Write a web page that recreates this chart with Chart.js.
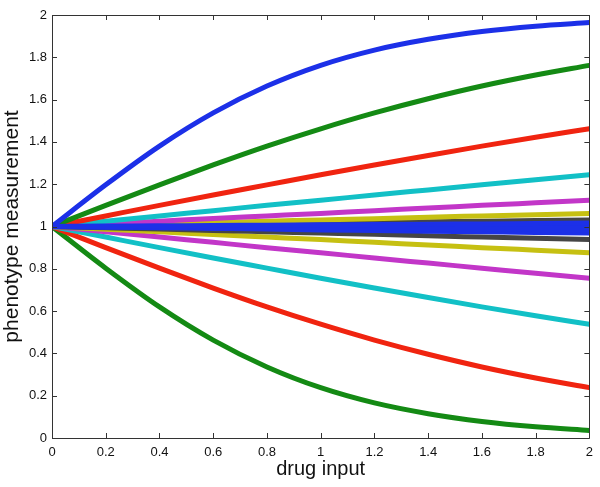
<!DOCTYPE html>
<html>
<head>
<meta charset="utf-8">
<script src="https://cdn.jsdelivr.net/npm/chart.js@4.4.1/dist/chart.umd.min.js"></script>
<style>
  html, body { margin: 0; padding: 0; background: #fff; }
  #wrap { width: 600px; height: 487px; }
</style>
</head>
<body>
<div id="wrap"><canvas id="phenotypeChart" width="600" height="487"></canvas></div>
<script>
// drug input sample points
const drugInput = [0, 0.2, 0.4, 0.6, 0.8, 1, 1.2, 1.4, 1.6, 1.8, 2];

// curves above 1 (top to bottom)
const up1 = [1.000, 1.197, 1.380, 1.537, 1.664, 1.762, 1.834, 1.885, 1.922, 1.947, 1.964];
const up2 = [1.000, 1.100, 1.197, 1.291, 1.380, 1.462, 1.537, 1.604, 1.664, 1.716, 1.762];
const up3 = [1.000, 1.050, 1.100, 1.149, 1.197, 1.245, 1.291, 1.336, 1.380, 1.422, 1.462];
const up4 = [1.000, 1.025, 1.050, 1.075, 1.100, 1.124, 1.149, 1.173, 1.197, 1.221, 1.245];
const up5 = [1.000, 1.013, 1.025, 1.038, 1.050, 1.062, 1.075, 1.087, 1.100, 1.112, 1.124];
const up6 = [1.000, 1.006, 1.012, 1.019, 1.025, 1.031, 1.037, 1.044, 1.050, 1.056, 1.062];
const up7 = [1.000, 1.003, 1.006, 1.009, 1.012, 1.016, 1.019, 1.022, 1.025, 1.028, 1.031];

// the blue bundle around 1
const band1 = [1.000, 1.002, 1.003, 1.005, 1.006, 1.008, 1.009, 1.011, 1.012, 1.014, 1.016];
const band2 = [1.000, 1.000, 1.000, 1.000, 1.000, 1.000, 1.000, 1.000, 1.000, 1.000, 1.000];
const band3 = [1.000, 0.998, 0.997, 0.995, 0.994, 0.992, 0.991, 0.989, 0.988, 0.986, 0.984];
const band4 = [1.000, 0.997, 0.994, 0.991, 0.988, 0.984, 0.981, 0.978, 0.975, 0.972, 0.969];

// curves below 1 (top to bottom)
const down1 = [1.000, 0.994, 0.988, 0.981, 0.975, 0.969, 0.963, 0.956, 0.950, 0.944, 0.938];
const down2 = [1.000, 0.987, 0.975, 0.962, 0.950, 0.938, 0.925, 0.913, 0.900, 0.888, 0.876];
const down3 = [1.000, 0.975, 0.950, 0.925, 0.900, 0.876, 0.851, 0.827, 0.803, 0.779, 0.755];
const down4 = [1.000, 0.950, 0.900, 0.851, 0.803, 0.755, 0.709, 0.664, 0.620, 0.578, 0.538];
const down5 = [1.000, 0.900, 0.803, 0.709, 0.620, 0.538, 0.463, 0.396, 0.336, 0.284, 0.238];
const down6 = [1.000, 0.803, 0.620, 0.463, 0.336, 0.238, 0.166, 0.115, 0.078, 0.053, 0.036];

const axisTicks = [0, 0.2, 0.4, 0.6, 0.8, 1, 1.2, 1.4, 1.6, 1.8, 2];

const BLUE = '#1c30e8', GREEN = '#148a14', RED = '#f02410', CYAN = '#12c0c6',
      MAGENTA = '#c236c8', YELLOW = '#c6c012', GRAY = '#454545';

// dataset 0 is drawn on top, so the blue bundle goes first
const curves = [
    [band1, BLUE], [band2, BLUE], [band3, BLUE], [band4, BLUE],
    [up1, BLUE], [up2, GREEN], [up3, RED], [up4, CYAN], [up5, MAGENTA], [up6, YELLOW], [up7, GRAY],
    [down1, GRAY], [down2, YELLOW], [down3, MAGENTA], [down4, CYAN], [down5, RED], [down6, GREEN]
];

const datasets = curves.map(function(c) {
    return {
        data: drugInput.map((x, i) => ({ x: x, y: c[0][i] })),
        borderColor: c[1],
        backgroundColor: c[1],
        borderWidth: 5,
        pointRadius: 0,
        cubicInterpolationMode: 'monotone',
        fill: false
    };
});

// MATLAB style box with inward ticks on all four sides
const boxTicks = {
    id: 'boxTicks',
    afterDraw(chart) {
        const ctx = chart.ctx;
        const a = chart.chartArea;
        const xs = chart.scales.x, ys = chart.scales.y;
        ctx.save();
        ctx.strokeStyle = '#333';
        ctx.lineWidth = 1;
        ctx.beginPath();
        ctx.rect(Math.round(a.left) + 0.5, Math.round(a.top) + 0.5,
                 Math.round(a.right - a.left), Math.round(a.bottom - a.top));
        axisTicks.forEach(function(v) {
            const px = Math.round(xs.getPixelForValue(v)) + 0.5;
            ctx.moveTo(px, a.bottom); ctx.lineTo(px, a.bottom - 5);
            ctx.moveTo(px, a.top); ctx.lineTo(px, a.top + 5);
            const py = Math.round(ys.getPixelForValue(v)) + 0.5;
            ctx.moveTo(a.left, py); ctx.lineTo(a.left + 5, py);
            ctx.moveTo(a.right, py); ctx.lineTo(a.right - 5, py);
        });
        ctx.stroke();
        ctx.restore();
    }
};

const tickFont = { family: "'Liberation Sans', Arial, sans-serif", size: 13 };
const fmt = v => String(+Number(v).toFixed(1));

new Chart(document.getElementById('phenotypeChart').getContext('2d'), {
    type: 'line',
    data: { datasets: datasets },
    plugins: [boxTicks],
    options: {
        responsive: false,
        animation: false,
        layout: { padding: { top: 15, right: 10, left: 0, bottom: 6 } },
        plugins: { legend: { display: false }, tooltip: { enabled: false } },
        scales: {
            x: {
                type: 'linear', min: 0, max: 2,
                afterBuildTicks: s => { s.ticks = axisTicks.map(v => ({ value: v })); },
                afterFit: s => { s.height = 43; },
                grid: { display: false, drawTicks: false },
                border: { display: false },
                ticks: { color: '#111', font: tickFont, padding: 7, maxRotation: 0, autoSkip: false, callback: fmt },
                title: {
                    display: true, text: 'drug input', color: '#111',
                    font: { family: "'Liberation Sans', Arial, sans-serif", size: 20 },
                    padding: { top: 0, bottom: 0 }
                }
            },
            y: {
                type: 'linear', min: 0, max: 2,
                afterBuildTicks: s => { s.ticks = axisTicks.map(v => ({ value: v })); },
                afterFit: s => { s.width = 52; },
                grid: { display: false, drawTicks: false },
                border: { display: false },
                ticks: { color: '#111', font: tickFont, padding: 5, autoSkip: false, callback: fmt },
                title: {
                    display: true, text: 'phenotype measurement', color: '#111',
                    font: { family: "'Liberation Sans', Arial, sans-serif", size: 21 },
                    padding: { top: 0, bottom: 0 }
                }
            }
        }
    }
});
</script>
</body>
</html>
